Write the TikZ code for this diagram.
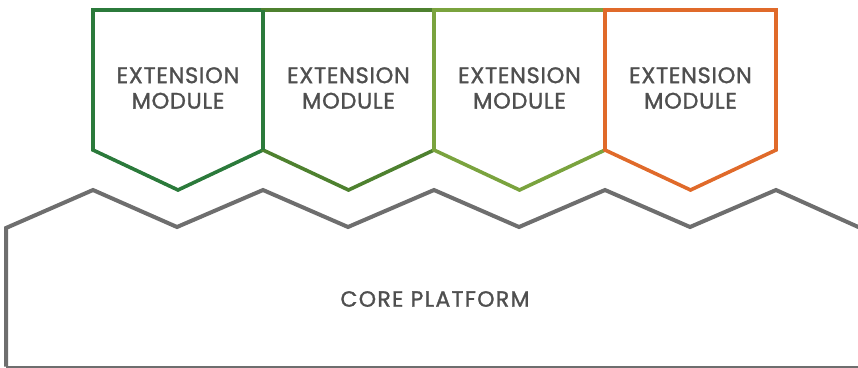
\documentclass[tikz,border=0pt]{standalone}
\usepackage{fontspec}
\setmainfont{Poppins}[BoldFont=Poppins, BoldFeatures={FakeBold=1.3}]
\definecolor{modA}{HTML}{2B7A3B}
\definecolor{modB}{HTML}{4E812F}
\definecolor{modC}{HTML}{7AA33E}
\definecolor{modD}{HTML}{E06A2A}
\definecolor{corecol}{HTML}{6E6E6E}
\definecolor{txt}{HTML}{4F4F4F}
\tikzset{
  modoutline/.style={line width=3.6pt, line join=miter},
  coreoutline/.style={draw=corecol, line width=4pt, line join=miter},
  modlabel/.style={text=txt, font=\fontsize{22.5}{25.5}\selectfont\bfseries\addfontfeatures{LetterSpace=3}, align=center, inner sep=0pt},
  corelabel/.style={text=txt, font=\fontsize{22}{25}\selectfont\bfseries\addfontfeatures{LetterSpace=6}, inner sep=0pt}
}
\newcommand{\modshape}[3]{%
  \draw[modoutline, draw=#3] (#1,10) -- (#2,10) -- (#2,150) -- ({(#1+#2)/2},190) -- (#1,150) -- cycle;}
\begin{document}
\begin{tikzpicture}[x=1pt,y=-1pt]
  \useasboundingbox (0,0) rectangle (858,367);
  % core platform outline with its zigzag top edge
  \draw[coreoutline] (6,366.5) -- (6,228) -- (93,190) -- (177,227) -- (263,190) -- (348,227)
     -- (434,190) -- (519,227) -- (605,190) -- (690,227) -- (776,190) -- (860.5,228)
     -- (860.5,368) -- (6,368);
  % extension modules
  \modshape{93}{263}{modA}
  \modshape{263}{434}{modB}
  \modshape{434}{605}{modC}
  \modshape{605}{776}{modD}
  \draw[modoutline, draw=modA] (263,10) -- (263,150);
  % labels
  \node[modlabel] (m1) at (178,88) {EXTENSION\\MODULE};
  \node[modlabel] (m2) at (348.5,88) {EXTENSION\\MODULE};
  \node[modlabel] (m3) at (519.5,88) {EXTENSION\\MODULE};
  \node[modlabel] (m4) at (690.5,88) {EXTENSION\\MODULE};
  \node[corelabel] (core) at (435,299) {CORE PLATFORM};
\end{tikzpicture}
\end{document}
